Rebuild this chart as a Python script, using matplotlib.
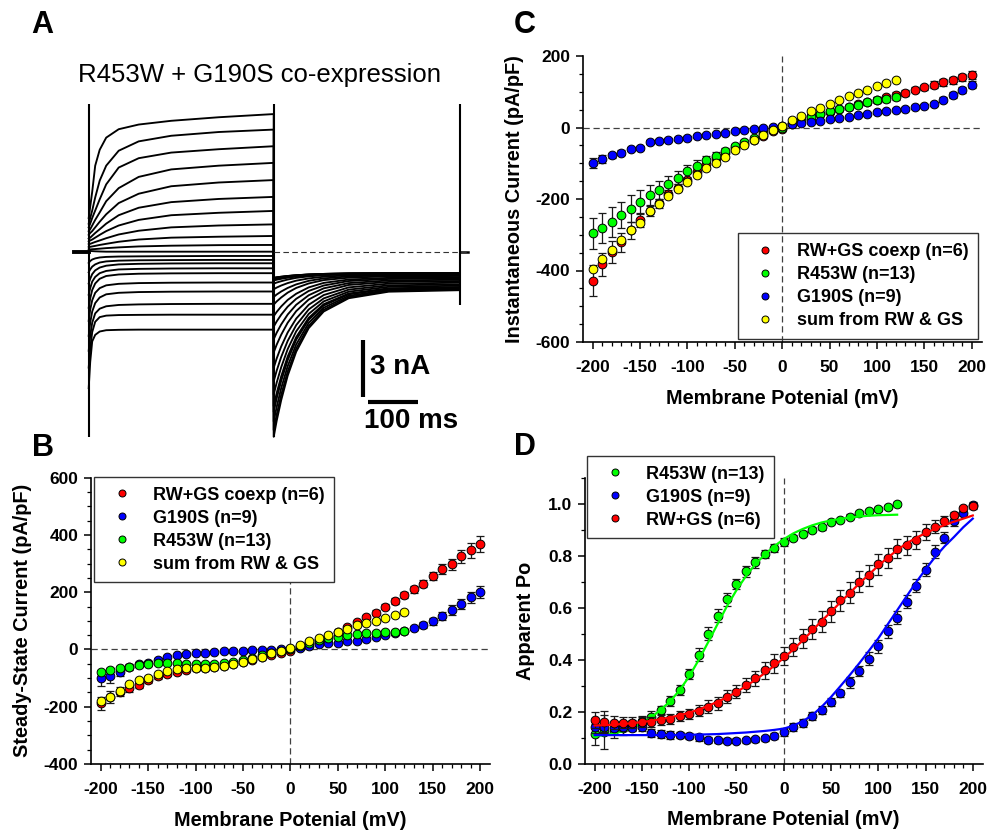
import matplotlib
matplotlib.use("Agg")
import matplotlib.pyplot as plt
from matplotlib.ticker import MultipleLocator, FixedLocator

plt.rcParams["font.family"] = ["Liberation Sans", "DejaVu Sans"]
plt.rcParams["axes.unicode_minus"] = False

# ==========================================================================
#  Data
# ==========================================================================

V_ALL = list(range(-200, 201, 10))   # coexp / G190S: -200..+200 mV
V_RW = list(range(-200, 121, 10))    # R453W / sum: -200..+120 mV

# ---- panel C: instantaneous current (pA/pF) ----
C_COEXP = [-428, -383, -348, -321, -287, -260, -233, -212, -186, -168, -147, -124, -103, -85, -70,
           -57, -46, -34, -25, -11, -3, 12, 23, 31, 37, 44, 51, 58, 65, 72, 78, 84, 91, 97, 106,
           112, 120, 126, 132, 140, 148]
C_COEXP_ERR = [42, 33, 30, 27, 24, 18, 14, 12, 11, 10, 9, 8, 7, 6, 5, 4, 4, 3, 3, 2, 2, 2, 2, 3, 3,
               4, 4, 5, 5, 6, 6, 7, 7, 8, 8, 8, 9, 9, 10, 10, 11]
C_R453W = [-296, -281, -263, -245, -227, -208, -190, -174, -158, -140, -123, -107, -92, -79, -66,
           -53, -40, -29, -15, -4, 0, 9, 21, 28, 37, 45, 51, 58, 64, 70, 76, 80, 84]
C_R453W_ERR = [43, 41, 42, 37, 37, 32, 28, 25, 22, 19, 17, 15, 13, 11, 9, 8, 6, 5, 4, 3, 2, 2, 3,
               4, 5, 5, 6, 6, 7, 7, 8, 8, 8]
C_G190S = [-99, -88, -78, -70, -61, -57, -41, -37, -34, -31, -28, -24, -21, -18, -14, -10, -7, -4,
           -1, 1, 4, 9, 13, 16, 19, 23, 27, 30, 34, 38, 42, 46, 49, 53, 57, 61, 66, 77, 91, 105, 120]
C_G190S_ERR = [15, 10, 8, 7, 6, 5, 5, 4, 4, 4, 3, 3, 3, 3, 2, 2, 2, 2, 2, 2, 2, 2, 2, 2, 2, 3, 3,
               3, 3, 3, 4, 4, 4, 4, 5, 5, 6, 7, 8, 9, 10]
C_SUM = [-395, -369, -342, -316, -288, -267, -234, -213, -192, -172, -152, -133, -114, -98, -83,
         -64, -48, -34, -21, -7, 5, 21, 33, 45, 55, 66, 76, 87, 96, 105, 115, 124, 133]

# ---- panel B: steady-state current (pA/pF) ----
B_COEXP = [-188, -166, -147, -135, -124, -107, -94, -86, -78, -71, -66, -63, -60, -56, -50, -43,
           -36, -28, -20, -12, -5, 9, 21, 33, 47, 62, 77, 95, 112, 129, 150, 169, 191, 210, 230,
           257, 282, 297, 325, 347, 370]
B_COEXP_ERR = [22, 20, 15, 13, 12, 10, 9, 8, 7, 6, 5, 5, 4, 4, 3, 3, 3, 3, 2, 2, 2, 2, 3, 3, 4, 5,
               5, 6, 7, 8, 9, 10, 11, 12, 13, 15, 17, 20, 22, 26, 28]
B_G190S = [-101, -91, -79, -62, -52, -46, -35, -27, -21, -16, -13, -11, -9, -7, -6, -4, -3, -2, -1,
           0, 2, 6, 13, 19, 22, 24, 28, 31, 38, 44, 51, 56, 64, 75, 85, 99, 116, 137, 158, 182, 200]
B_G190S_ERR = [25, 25, 15, 10, 8, 6, 5, 4, 3, 3, 3, 3, 2, 2, 2, 2, 2, 2, 2, 2, 2, 2, 2, 3, 3, 3, 3,
               4, 4, 5, 5, 6, 7, 8, 10, 12, 14, 17, 18, 18, 20]
B_R453W = [-78, -73, -66, -61, -55, -51, -48, -47, -47, -49, -51, -52, -50, -47, -42, -36, -29,
           -21, -14, -7, 2, 12, 23, 33, 41, 45, 50, 54, 56, 58, 60, 62, 65]
B_R453W_ERR = [8, 7, 7, 6, 6, 5, 5, 5, 4, 4, 4, 4, 4, 3, 3, 3, 3, 3, 2, 2, 2, 2, 3, 3, 3, 4, 4, 4,
               5, 5, 5, 5, 6]
B_SUM = [-180, -165, -145, -122, -108, -99, -84, -74, -69, -66, -65, -65, -62, -57, -50, -42, -33,
         -26, -14, -4, 5, 16, 28, 40, 51, 62, 73, 85, 93, 101, 110, 122, 131]

# ---- panel D: apparent Po ----
D_R453W = [0.115, 0.125, 0.13, 0.138, 0.15, 0.165, 0.183, 0.208, 0.243, 0.286, 0.346, 0.421,
           0.502, 0.571, 0.634, 0.691, 0.74, 0.775, 0.806, 0.831, 0.852, 0.87, 0.885, 0.90, 0.91,
           0.929, 0.939, 0.951, 0.964, 0.972, 0.98, 0.987, 1.0]
D_R453W_ERR = [0.04, 0.065, 0.03, 0.025, 0.02, 0.02, 0.02, 0.015, 0.02, 0.02, 0.02, 0.025, 0.025,
               0.025, 0.025, 0.02, 0.02, 0.02, 0.015, 0.015, 0.015, 0.01, 0.01, 0.01, 0.01, 0.008,
               0.008, 0.008, 0.008, 0.008, 0.008, 0.008, 0.008]
D_R453W_FIT = [0.108, 0.112, 0.118, 0.127, 0.14, 0.157, 0.18, 0.21, 0.242, 0.285, 0.337, 0.40,
               0.468, 0.538, 0.607, 0.668, 0.722, 0.768, 0.805, 0.837, 0.864, 0.886, 0.903, 0.917,
               0.928, 0.936, 0.942, 0.947, 0.951, 0.954, 0.956, 0.957, 0.958]
D_G190S = [0.142, 0.142, 0.141, 0.142, 0.141, 0.142, 0.119, 0.116, 0.114, 0.113, 0.109, 0.103,
           0.093, 0.092, 0.091, 0.091, 0.092, 0.096, 0.10, 0.109, 0.124, 0.144, 0.16, 0.185, 0.208,
           0.24, 0.272, 0.314, 0.359, 0.405, 0.453, 0.511, 0.563, 0.623, 0.686, 0.747, 0.815, 0.87,
           0.934, 0.964, 0.997]
D_G190S_ERR = [0.02, 0.02, 0.015, 0.015, 0.015, 0.015, 0.015, 0.015, 0.015, 0.012, 0.012, 0.012,
               0.01, 0.01, 0.01, 0.01, 0.01, 0.01, 0.01, 0.012, 0.015, 0.015, 0.015, 0.015, 0.015,
               0.015, 0.015, 0.02, 0.02, 0.025, 0.025, 0.025, 0.025, 0.025, 0.025, 0.025, 0.025,
               0.02, 0.02, 0.01, 0.01]
D_G190S_FIT = [0.112, 0.112, 0.112, 0.112, 0.112, 0.112, 0.112, 0.112, 0.112, 0.113, 0.113, 0.114,
               0.115, 0.116, 0.118, 0.12, 0.122, 0.125, 0.128, 0.132, 0.137, 0.148, 0.165, 0.188,
               0.22, 0.258, 0.30, 0.343, 0.388, 0.435, 0.483, 0.537, 0.591, 0.645, 0.698, 0.748,
               0.795, 0.836, 0.872, 0.91, 0.943]
D_COEXP = [0.17, 0.163, 0.16, 0.16, 0.16, 0.162, 0.163, 0.17, 0.174, 0.185, 0.193, 0.206, 0.221,
           0.234, 0.259, 0.278, 0.304, 0.33, 0.361, 0.387, 0.415, 0.451, 0.483, 0.519, 0.547,
           0.587, 0.63, 0.659, 0.70, 0.725, 0.768, 0.792, 0.828, 0.84, 0.86, 0.891, 0.911, 0.934,
           0.955, 0.983, 0.99]
D_COEXP_ERR = [0.03, 0.04, 0.025, 0.022, 0.02, 0.02, 0.02, 0.02, 0.02, 0.02, 0.02, 0.022, 0.025,
               0.025, 0.025, 0.025, 0.028, 0.03, 0.032, 0.035, 0.035, 0.035, 0.038, 0.04, 0.04,
               0.04, 0.04, 0.04, 0.04, 0.04, 0.04, 0.04, 0.035, 0.035, 0.035, 0.03, 0.025, 0.02,
               0.015, 0.01, 0.01]
D_COEXP_FIT = [0.149, 0.15, 0.152, 0.155, 0.158, 0.162, 0.167, 0.173, 0.18, 0.188, 0.198, 0.21,
               0.224, 0.24, 0.257, 0.277, 0.30, 0.324, 0.35, 0.378, 0.408, 0.44, 0.475, 0.512,
               0.55, 0.585, 0.622, 0.658, 0.694, 0.728, 0.762, 0.793, 0.822, 0.848, 0.869, 0.887,
               0.904, 0.918, 0.931, 0.943, 0.955]

# ---- panel A: current traces (nA), +200 mV (top) .. -200 mV (bottom) ----
STEP_T = [0, 3, 7, 13, 22, 35, 60, 100, 165, 260, 370]          # ms
TAIL_T = [370, 376, 385, 398, 415, 440, 470, 520, 600, 742]     # ms
STEP_I = [
    [1.8, 2.4, 3.2, 4.6, 5.45, 6.1, 6.55, 6.8, 7.0, 7.19, 7.36],
    [1.5, 1.8, 2.2, 2.9, 3.8, 4.6, 5.4, 5.9, 6.2, 6.4, 6.53],
    [1.3, 1.5, 1.8, 2.2, 2.8, 3.6, 4.5, 5.0, 5.3, 5.48, 5.64],
    [1.1, 1.2, 1.4, 1.7, 2.1, 2.7, 3.4, 4.0, 4.4, 4.6, 4.75],
    [0.9, 1.0, 1.1, 1.3, 1.6, 2.0, 2.6, 3.1, 3.5, 3.7, 3.83],
    [0.7, 0.75, 0.85, 1.0, 1.2, 1.5, 1.95, 2.35, 2.65, 2.82, 2.93],
    [0.55, 0.6, 0.65, 0.75, 0.9, 1.1, 1.4, 1.7, 1.95, 2.08, 2.18],
    [0.4, 0.42, 0.46, 0.52, 0.6, 0.72, 0.92, 1.12, 1.3, 1.4, 1.46],
    [0.25, 0.26, 0.28, 0.31, 0.36, 0.42, 0.53, 0.65, 0.75, 0.8, 0.84],
    [0.12, 0.12, 0.13, 0.14, 0.16, 0.19, 0.23, 0.28, 0.32, 0.35, 0.36],
    [0.05, 0.04, 0.03, 0.02, 0.01, 0.0, 0.0, 0.0, 0.0, 0.0, 0.0],
    [-0.6, -0.5, -0.42, -0.36, -0.31, -0.28, -0.26, -0.25, -0.24, -0.23, -0.23],
    [-1.1, -0.95, -0.8, -0.68, -0.58, -0.52, -0.48, -0.46, -0.45, -0.44, -0.44],
    [-1.7, -1.45, -1.2, -1.0, -0.85, -0.75, -0.68, -0.65, -0.63, -0.62, -0.62],
    [-2.3, -1.95, -1.6, -1.35, -1.15, -1.03, -0.95, -0.92, -0.9, -0.89, -0.89],
    [-3.0, -2.5, -2.05, -1.7, -1.45, -1.3, -1.22, -1.18, -1.16, -1.15, -1.15],
    [-3.7, -3.1, -2.6, -2.2, -1.95, -1.8, -1.72, -1.68, -1.66, -1.65, -1.65],
    [-4.5, -3.8, -3.2, -2.75, -2.45, -2.28, -2.2, -2.16, -2.14, -2.13, -2.13],
    [-5.3, -4.5, -3.8, -3.3, -3.05, -2.92, -2.85, -2.82, -2.8, -2.79, -2.79],
    [-6.2, -5.2, -4.3, -3.75, -3.5, -3.42, -3.39, -3.38, -3.37, -3.37, -3.37],
    [-7.3, -5.9, -4.8, -4.45, -4.27, -4.2, -4.18, -4.17, -4.17, -4.17, -4.17],
]
TAIL_I = [
    [-9.90, -9.04, -7.94, -6.63, -5.35, -4.09, -3.20, -2.49, -2.14, -2.06],
    [-9.54, -8.72, -7.66, -6.41, -5.18, -3.97, -3.11, -2.43, -2.10, -2.02],
    [-9.08, -8.30, -7.30, -6.12, -4.96, -3.81, -3.00, -2.36, -2.05, -1.97],
    [-8.57, -7.84, -6.91, -5.80, -4.71, -3.64, -2.88, -2.28, -1.99, -1.92],
    [-8.26, -7.56, -6.67, -5.61, -4.57, -3.54, -2.81, -2.24, -1.96, -1.89],
    [-7.64, -7.00, -6.18, -5.21, -4.26, -3.33, -2.66, -2.14, -1.88, -1.82],
    [-6.93, -6.36, -5.63, -4.77, -3.93, -3.09, -2.50, -2.03, -1.80, -1.75],
    [-6.21, -5.71, -5.07, -4.32, -3.58, -2.84, -2.32, -1.91, -1.71, -1.66],
    [-5.39, -4.97, -4.44, -3.80, -3.18, -2.56, -2.13, -1.78, -1.62, -1.57],
    [-4.68, -4.33, -3.89, -3.36, -2.84, -2.33, -1.96, -1.68, -1.54, -1.50],
    [-4.01, -3.73, -3.37, -2.94, -2.52, -2.10, -1.81, -1.57, -1.46, -1.43],
    [-3.45, -3.22, -2.93, -2.58, -2.25, -1.91, -1.67, -1.49, -1.40, -1.37],
    [-2.83, -2.66, -2.45, -2.19, -1.94, -1.70, -1.52, -1.39, -1.32, -1.30],
    [-2.42, -2.29, -2.13, -1.94, -1.75, -1.56, -1.43, -1.32, -1.27, -1.26],
    [-2.01, -1.92, -1.81, -1.68, -1.55, -1.43, -1.34, -1.26, -1.23, -1.22],
    [-1.71, -1.65, -1.58, -1.49, -1.40, -1.32, -1.26, -1.21, -1.19, -1.18],
    [-1.54, -1.50, -1.45, -1.39, -1.33, -1.27, -1.22, -1.19, -1.17, -1.17],
    [-1.43, -1.40, -1.36, -1.31, -1.27, -1.22, -1.19, -1.17, -1.15, -1.15],
    [-1.40, -1.37, -1.34, -1.30, -1.26, -1.22, -1.19, -1.16, -1.15, -1.15],
    [-1.40, -1.37, -1.34, -1.30, -1.26, -1.22, -1.19, -1.16, -1.15, -1.15],
    [-1.50, -1.46, -1.42, -1.36, -1.30, -1.25, -1.21, -1.18, -1.16, -1.16],
]
SPIKE_T = [0, 370, 742]
SPIKE_TOP = [7.9, 7.9, 7.9]
SPIKE_BOT = [-9.9, -9.9, -2.85]
HOLD_PRE_T = [-29, 0]
HOLD_POST_T = [742, 758]
ZERO_T = [370, 758]

RED, GREEN, BLUE, YELLOW = "#ff0000", "#00ff00", "#0000ff", "#ffff00"
TXT = dict(weight="bold")


# ==========================================================================
#  helpers
# ==========================================================================

def style_iv_axes(ax, ylim, ymajor, yminor):
    ax.spines["top"].set_visible(False)
    ax.spines["right"].set_visible(False)
    for s in ("left", "bottom"):
        ax.spines[s].set_linewidth(1.2)
    ax.set_xlim(-210.5, 210.5)
    ax.set_ylim(*ylim)
    ax.xaxis.set_major_locator(FixedLocator([-200, -150, -100, -50, 0, 50, 100, 150, 200]))
    ax.xaxis.set_minor_locator(FixedLocator(V_ALL))
    ax.yaxis.set_major_locator(MultipleLocator(ymajor))
    ax.yaxis.set_minor_locator(MultipleLocator(yminor))
    ax.tick_params(which="major", direction="out", length=5, width=1.1, labelsize=12.5)
    ax.tick_params(which="minor", direction="out", length=3, width=0.9)
    ax.tick_params(axis="x", which="major", pad=8)
    ax.tick_params(axis="y", which="major", pad=4)
    for lab in ax.get_xticklabels() + ax.get_yticklabels():
        lab.set_fontweight("bold")


def series(ax, v, y, err, color, label, z):
    if err is not None:
        ax.errorbar(v, y, yerr=err, fmt="none", ecolor="0.1", elinewidth=0.9,
                    capsize=3, capthick=0.9, zorder=z)
    ax.plot(v, y, "o", ms=6.3, mfc=color, mec="black", mew=0.7, label=label, zorder=z + 0.5)


def zero_lines(ax, horizontal=True):
    kw = dict(color="0.25", lw=0.9, dashes=(5, 3), zorder=1)
    if horizontal:
        ax.axhline(0, **kw)
    ax.axvline(0, **kw)


def make_legend(ax, anchor, loc, opaque=True):
    leg = ax.legend(loc=loc, bbox_to_anchor=anchor, frameon=True, fancybox=False,
                    prop=dict(weight="bold", size=13),
                    handlelength=2.0, handletextpad=0.72, borderpad=0.55,
                    labelspacing=0.33, markerscale=0.8, borderaxespad=0)
    frame = leg.get_frame()
    frame.set_alpha(None)
    frame.set_facecolor("white" if opaque else (1, 1, 1, 0))
    frame.set_edgecolor("0.2")
    frame.set_linewidth(1.0)
    return leg


def labels(ax, xlab, ylab, xl_y, yl_x):
    ax.set_xlabel(xlab, fontsize=14.3, va="center", **TXT)
    ax.set_ylabel(ylab, fontsize=14.3, va="center", **TXT)
    ax.xaxis.set_label_coords(0.5, xl_y)
    ax.yaxis.set_label_coords(yl_x, 0.5)


# ==========================================================================
#  panels
# ==========================================================================

def panel_a(fig):
    ax = fig.add_axes([60 / 989, 1 - 445 / 832, 420 / 989, 350 / 832])
    ax.set_xlim(-57.4, 782.6)
    ax.set_ylim(-10.34, 8.38)
    ax.axis("off")
    for step_vals, tail_vals in zip(STEP_I, TAIL_I):
        ax.plot(STEP_T + TAIL_T, step_vals + tail_vals, color="black", lw=1.35)
    ax.vlines(SPIKE_T, SPIKE_BOT, SPIKE_TOP, color="black", lw=1.5)
    ax.plot(HOLD_PRE_T, [0, 0], color="black", lw=2.8)
    ax.plot(HOLD_POST_T, [0, 0], color="black", lw=1.8)
    ax.plot(ZERO_T, [0, 0], color="0.2", lw=0.8, dashes=(5, 3))
    # scale bars: 3 nA, 100 ms
    ax.plot([548, 548], [-7.75, -4.75], color="black", lw=3, solid_capstyle="butt")
    ax.plot([559, 659], [-8.02, -8.02], color="black", lw=3, solid_capstyle="butt")
    ax.text(562, -6.17, "3 nA", fontsize=20, ha="left", va="center", **TXT)
    ax.text(551, -9.05, "100 ms", fontsize=20, ha="left", va="center", **TXT)
    fig.text(260 / 989, 1 - 75 / 832, "R453W + G190S co-expression", fontsize=18.5,
             ha="center", va="center")


def panel_c(fig):
    ax = fig.add_axes([582.7 / 989, 1 - 342 / 832, 399 / 989, 286 / 832])
    zero_lines(ax)
    series(ax, V_ALL, C_COEXP, C_COEXP_ERR, RED, "RW+GS coexp (n=6)", 3)
    series(ax, V_RW, C_R453W, C_R453W_ERR, GREEN, "R453W (n=13)", 4)
    series(ax, V_ALL, C_G190S, C_G190S_ERR, BLUE, "G190S (n=9)", 5)
    series(ax, V_RW, C_SUM, None, YELLOW, "sum from RW & GS", 6)
    style_iv_axes(ax, (-600, 200), 200, 50)
    labels(ax, "Membrane Potenial (mV)", "Instantaneous Current (pA/pF)", -0.196, -0.17)
    make_legend(ax, (0.991, 0.0105), "lower right", opaque=False)


def panel_b(fig):
    ax = fig.add_axes([90.7 / 989, 1 - 764 / 832, 399.3 / 989, 286.3 / 832])
    zero_lines(ax)
    series(ax, V_ALL, B_COEXP, B_COEXP_ERR, RED, "RW+GS coexp (n=6)", 3)
    series(ax, V_ALL, B_G190S, B_G190S_ERR, BLUE, "G190S (n=9)", 4)
    series(ax, V_RW, B_R453W, B_R453W_ERR, GREEN, "R453W (n=13)", 5)
    series(ax, V_RW, B_SUM, None, YELLOW, "sum from RW & GS", 6)
    style_iv_axes(ax, (-400, 600), 200, 50)
    labels(ax, "Membrane Potenial (mV)", "Steady-State Current (pA/pF)", -0.196, -0.17)
    make_legend(ax, (0.008, 1.0035), "upper left")


def panel_d(fig):
    ax = fig.add_axes([584.7 / 989, 1 - 764.3 / 832, 398 / 989, 286.6 / 832])
    zero_lines(ax, horizontal=False)
    series(ax, V_RW, D_R453W, D_R453W_ERR, GREEN, "R453W (n=13)", 3)
    ax.plot(V_RW, D_R453W_FIT, color=GREEN, lw=1.6, zorder=3.8)
    series(ax, V_ALL, D_G190S, D_G190S_ERR, BLUE, "G190S (n=9)", 4)
    ax.plot(V_ALL, D_G190S_FIT, color=BLUE, lw=1.6, zorder=4.8)
    series(ax, V_ALL, D_COEXP, D_COEXP_ERR, RED, "RW+GS (n=6)", 5)
    ax.plot(V_ALL, D_COEXP_FIT, color=RED, lw=1.6, zorder=5.8)
    style_iv_axes(ax, (0, 1.1), 0.2, 0.1)
    ax.yaxis.set_major_locator(FixedLocator([0.0, 0.2, 0.4, 0.6, 0.8, 1.0]))
    ax.set_yticklabels(["0.0", "0.2", "0.4", "0.6", "0.8", "1.0"], fontweight="bold")
    labels(ax, "Membrane Potenial (mV)", "Apparent Po", -0.194, -0.1475)
    make_legend(ax, (0.005, 1.0768), "upper left")


def main():
    fig = plt.figure(figsize=(9.89, 8.32), dpi=100)
    panel_a(fig)
    panel_b(fig)
    panel_c(fig)
    panel_d(fig)
    for letter, (px, py) in zip("ACBD", [(42, 25), (525, 25), (43, 448), (525, 447)]):
        fig.text(px / 989, 1 - py / 832, letter, fontsize=22, ha="center", va="center", **TXT)
    fig.savefig("out.png", dpi=100)
    plt.close(fig)


if __name__ == "__main__":
    main()
